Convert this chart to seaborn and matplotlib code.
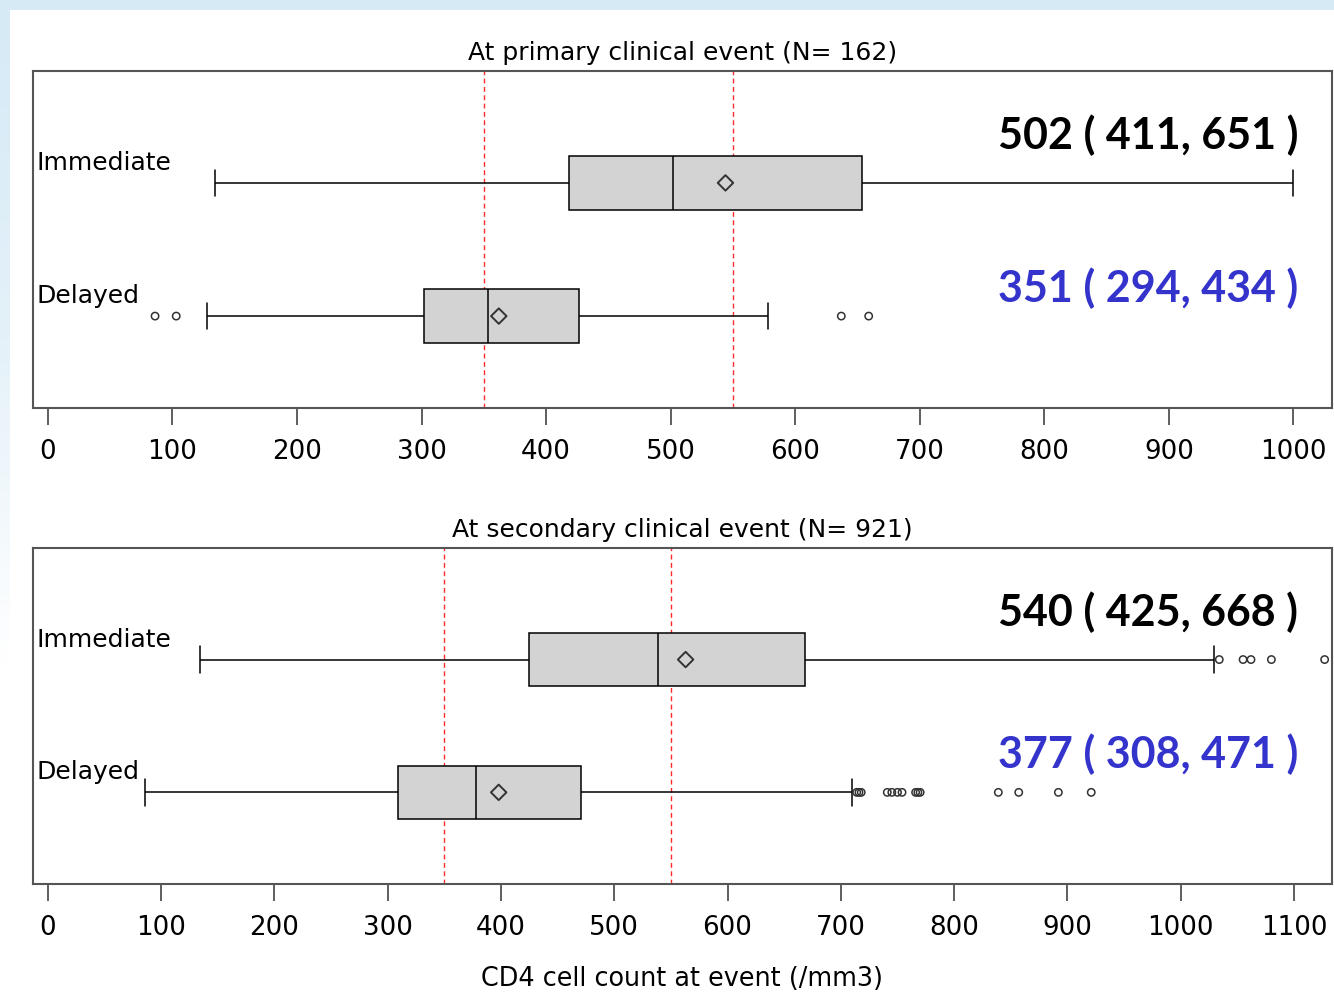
import numpy as np
import pandas as pd
import matplotlib
matplotlib.use("Agg")
import matplotlib.pyplot as plt
import seaborn as sns
from matplotlib.colors import LinearSegmentedColormap
from matplotlib.transforms import blended_transform_factory

groups = ["Immediate", "Delayed"]
cutoffs = [350, 550]

# values: whisker low, Q1, median, Q3, whisker high
primary_immediate = [134, 418, 502, 654, 1000]
primary_delayed = [128, 302, 353, 426, 578]
primary_means = [544, 362]
primary_outliers_immediate = []
primary_outliers_delayed = [86, 103, 637, 659]
primary_labels = ["502 ( 411, 651 )", "351 ( 294, 434 )"]
primary_ticks = [0, 100, 200, 300, 400, 500, 600, 700, 800, 900, 1000]

secondary_immediate = [134, 425, 539, 668, 1029]
secondary_delayed = [86, 309, 378, 471, 710]
secondary_means = [563, 398]
secondary_outliers_immediate = [1034, 1055, 1062, 1080, 1127]
secondary_outliers_delayed = [714, 716, 718, 741, 745, 750, 754, 766, 768,
                              770, 839, 857, 892, 921]
secondary_labels = ["540 ( 425, 668 )", "377 ( 308, 471 )"]
secondary_ticks = [0, 100, 200, 300, 400, 500, 600, 700, 800, 900, 1000, 1100]

label_colors = ["black", "#3434CC"]


def draw_panel(ax, immediate, delayed, means, out_imm, out_del, labels,
               title, ticks, xlim, label_offsets):
    df = pd.DataFrame({
        "group": [groups[0]] * len(immediate) + [groups[1]] * len(delayed),
        "cd4": immediate + delayed,
    })
    for c in cutoffs:
        ax.axvline(c, color="#FF2A2A", lw=1.0, ls=(0, (3.5, 2.5)), zorder=0.5)

    sns.boxplot(data=df, x="cd4", y="group", order=groups, orient="h",
                whis=(0, 100), width=0.4, color="#D3D3D3", saturation=1,
                linecolor="black", linewidth=1.1, fliersize=0, ax=ax)

    out_x = out_imm + out_del
    out_y = [0] * len(out_imm) + [1] * len(out_del)
    sns.scatterplot(x=out_x, y=out_y, marker="o", s=28, facecolor="none",
                    edgecolor="#333333", linewidth=1.1, zorder=4, ax=ax)
    sns.scatterplot(x=means, y=[0, 1], marker="D", s=62, facecolor="none",
                    edgecolor="#333333", linewidth=1.4, zorder=4, ax=ax)

    trans = blended_transform_factory(ax.transAxes, ax.transData)
    for i, g in enumerate(groups):
        ax.text(0.003, i - 0.15, g, transform=trans, ha="left", va="center",
                fontsize=18, color="black")
        ax.text(0.974, i + label_offsets[i], labels[i], transform=trans,
                ha="right", va="center", fontsize=31, fontweight="bold",
                family="Lato", color=label_colors[i])

    ax.set_xlim(*xlim)
    ax.set_ylim(1.69, -0.84)
    ax.set_xticks(ticks)
    ax.set_yticks([])
    ax.set_ylabel("")
    ax.set_xlabel("")
    ax.set_title(title, fontsize=18, pad=8, color="black")
    ax.tick_params(axis="x", direction="out", length=12, width=1.1,
                   color="#333333", pad=10, labelsize=18.8, labelcolor="black",
                   bottom=True)
    for sp in ax.spines.values():
        sp.set_color("#555555")
        sp.set_linewidth(1.5)
        sp.set_visible(True)


def main():
    sns.set_style("white")
    plt.rcParams["font.family"] = ["DejaVu Sans"]

    fig = plt.figure(figsize=(13.34, 9.93), dpi=100)
    fig.patch.set_facecolor("white")

    # light blue frame of the slide
    top = fig.add_axes([0, 1 - 10 / 993, 1, 10 / 993])
    top.set_facecolor("#D6EAF6")
    top.set_xticks([])
    top.set_yticks([])
    for sp in top.spines.values():
        sp.set_visible(False)
    band = fig.add_axes([0, 0, 10 / 1334, 1 - 10 / 993])
    cmap = LinearSegmentedColormap.from_list("band", ["#D6EAF6", "#E4F1F9", "white", "white"])
    band.imshow(np.linspace(0, 1, 200)[:, None], cmap=cmap, aspect="auto")
    band.axis("off")

    ax1 = fig.add_axes([33 / 1334, 1 - 408 / 993, 1299 / 1334, 337 / 993])
    ax2 = fig.add_axes([33 / 1334, 1 - 884 / 993, 1299 / 1334, 336 / 993])

    draw_panel(ax1, primary_immediate, primary_delayed, primary_means,
               primary_outliers_immediate, primary_outliers_delayed,
               primary_labels, "At primary clinical event (N= 162)",
               primary_ticks, (-12, 1031), [-0.36, -0.21])
    draw_panel(ax2, secondary_immediate, secondary_delayed, secondary_means,
               secondary_outliers_immediate, secondary_outliers_delayed,
               secondary_labels, "At secondary clinical event (N= 921)",
               secondary_ticks, (-13, 1133.5), [-0.36, -0.29])

    ax2.set_xlabel("CD4 cell count at event (/mm3)", fontsize=18.4,
                   labelpad=18, color="black")

    fig.savefig("out.png", dpi=100)
    plt.close(fig)


if __name__ == "__main__":
    main()
